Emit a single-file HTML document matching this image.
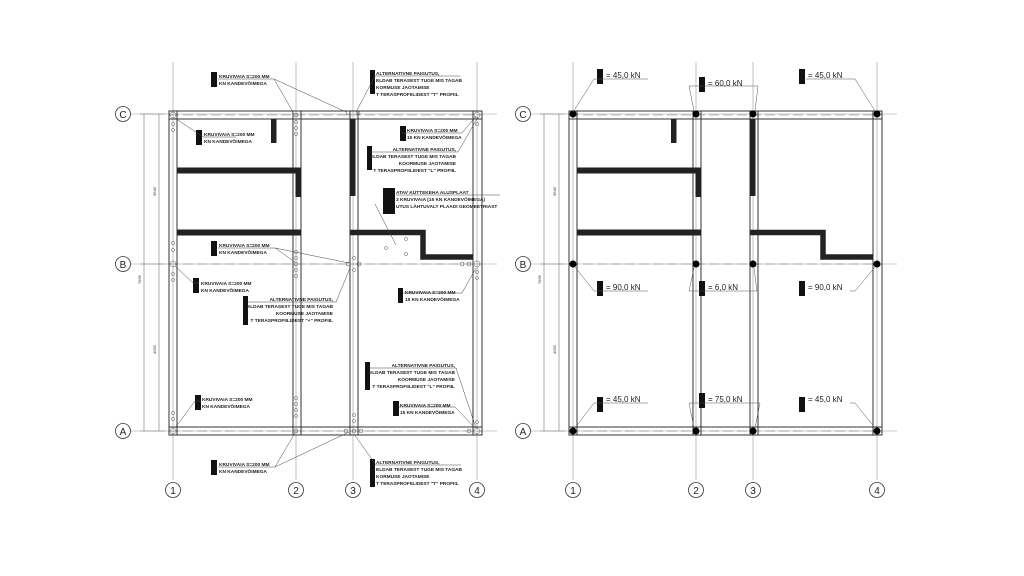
<!DOCTYPE html>
<html><head><meta charset="utf-8"><style>
html,body{margin:0;padding:0;background:#fff;}
svg{display:block;}
text{font-family:"Liberation Sans",sans-serif;fill:#222;}
.t{font-size:4.8px;font-weight:bold;fill:#333;}
.k{font-size:8px;fill:#666;}
</style></head><body>
<svg width="1024" height="576" viewBox="0 0 1024 576" xmlns="http://www.w3.org/2000/svg">
<rect width="1024" height="576" fill="#fff"/>
<defs>
<g id="plan">
  <g stroke="#999" stroke-width="0.6">
    <line x1="173" y1="62" x2="173" y2="480"/>
    <line x1="296" y1="62" x2="296" y2="480"/>
    <line x1="353" y1="62" x2="353" y2="480"/>
    <line x1="477" y1="62" x2="477" y2="480"/>
    <line x1="131" y1="114" x2="497" y2="114"/>
    <line x1="131" y1="264" x2="497" y2="264"/>
    <line x1="131" y1="431" x2="497" y2="431"/>
  </g>
  <g stroke="#777" stroke-width="0.6" stroke-dasharray="10,4">
    <line x1="169" y1="115" x2="482" y2="115"/>
    <line x1="169" y1="264" x2="482" y2="264"/>
    <line x1="169" y1="431" x2="482" y2="431"/>
  </g>
  <g fill="none" stroke="#333" stroke-width="1">
    <rect x="169" y="111" width="313" height="8"/>
    <rect x="169" y="427" width="313" height="8"/>
    <rect x="169" y="111" width="8" height="324"/>
    <rect x="293" y="111" width="8" height="324"/>
    <rect x="350" y="111" width="8" height="324"/>
    <rect x="473" y="111" width="9" height="324"/>
  </g>
  <g fill="#222">
    <rect x="177" y="167.5" width="124" height="6"/>
    <rect x="295.5" y="168" width="5.5" height="29"/>
    <rect x="271" y="119" width="5.5" height="24"/>
    <rect x="177" y="229.5" width="124" height="6"/>
    <rect x="350" y="119" width="5.5" height="77"/>
  </g>
  <polyline points="350,232.5 423,232.5 423,257 473,257" fill="none" stroke="#222" stroke-width="5.5"/>
  <g stroke="#777" stroke-width="0.6">
    <line x1="144" y1="114" x2="144" y2="431"/>
    <line x1="159" y1="114" x2="159" y2="431"/>
    <line x1="140" y1="114" x2="165" y2="114"/>
    <line x1="140" y1="264" x2="165" y2="264"/>
    <line x1="140" y1="431" x2="165" y2="431"/>
  </g>
  <text class="t" transform="translate(156,196) rotate(-90)" style="font-size:4px;font-weight:normal">3640</text>
  <text class="t" transform="translate(141,284) rotate(-90)" style="font-size:4px;font-weight:normal">7695</text>
  <text class="t" transform="translate(156,354) rotate(-90)" style="font-size:4px;font-weight:normal">4055</text>
  <g fill="#fff" stroke="#333" stroke-width="0.8">
    <circle cx="123" cy="114" r="7.5"/><circle cx="123" cy="264" r="7.5"/><circle cx="123" cy="431" r="7.5"/>
    <circle cx="173" cy="490" r="7.5"/><circle cx="296" cy="490" r="7.5"/><circle cx="353" cy="490" r="7.5"/><circle cx="477" cy="490" r="7.5"/>
  </g>
  <g style="font-size:10px" text-anchor="middle">
    <text x="123" y="118">C</text><text x="123" y="268">B</text><text x="123" y="435">A</text>
    <text x="173" y="494">1</text><text x="296" y="494">2</text><text x="353" y="494">3</text><text x="477" y="494">4</text>
  </g>
</g>
</defs>

<use href="#plan"/>
<use href="#plan" transform="translate(400,0)"/>

<g fill="none" stroke="#555" stroke-width="0.5">
  <circle cx="173" cy="115" r="3"/><circle cx="173" cy="124" r="1.6"/><circle cx="173" cy="130" r="1.6"/>
  <circle cx="296" cy="115" r="2"/><circle cx="296" cy="122" r="1.6"/><circle cx="296" cy="128" r="1.6"/><circle cx="296" cy="134" r="1.6"/>
  <circle cx="348" cy="113" r="2"/><circle cx="358" cy="113" r="2"/>
  <circle cx="477" cy="115" r="3"/><circle cx="477" cy="124" r="1.6"/>
  <circle cx="173" cy="243" r="1.6"/><circle cx="173" cy="250" r="1.6"/><circle cx="173" cy="264" r="3"/><circle cx="173" cy="274" r="1.6"/><circle cx="173" cy="280" r="1.6"/>
  <circle cx="296" cy="252" r="1.6"/><circle cx="296" cy="258" r="1.6"/><circle cx="296" cy="264" r="2"/><circle cx="296" cy="270" r="1.6"/><circle cx="296" cy="276" r="1.6"/>
  <circle cx="348" cy="264" r="2"/><circle cx="354" cy="258" r="1.6"/><circle cx="354" cy="270" r="1.6"/><circle cx="359" cy="264" r="2"/>
  <circle cx="462" cy="264" r="2"/><circle cx="469" cy="264" r="2"/><circle cx="477" cy="264" r="3"/><circle cx="477" cy="272" r="1.6"/><circle cx="477" cy="278" r="1.6"/>
  <circle cx="386" cy="248" r="1.6"/><circle cx="406" cy="239" r="1.6"/><circle cx="406" cy="254" r="1.6"/>
  <circle cx="173" cy="413" r="1.6"/><circle cx="173" cy="419" r="1.6"/><circle cx="173" cy="431" r="3"/>
  <circle cx="296" cy="398" r="1.6"/><circle cx="296" cy="404" r="1.6"/><circle cx="296" cy="410" r="1.6"/><circle cx="296" cy="416" r="1.6"/><circle cx="296" cy="431" r="2"/>
  <circle cx="354" cy="415" r="1.6"/><circle cx="354" cy="421" r="1.6"/><circle cx="346" cy="431" r="2"/><circle cx="354" cy="431" r="2"/><circle cx="361" cy="431" r="2"/>
  <circle cx="469" cy="431" r="2"/><circle cx="477" cy="431" r="3"/><circle cx="477" cy="422" r="1.6"/>
</g>

<g fill="#111">
  <rect x="211" y="72" width="6" height="15"/>
  <rect x="370" y="70" width="5" height="24"/>
  <rect x="196" y="130" width="6" height="15"/>
  <rect x="400" y="126" width="6" height="15"/>
  <rect x="367" y="146" width="5" height="24"/>
  <rect x="383" y="188" width="12" height="26"/>
  <rect x="211" y="241" width="6" height="15"/>
  <rect x="193" y="278" width="6" height="15"/>
  <rect x="243" y="296" width="5" height="29"/>
  <rect x="398" y="288" width="5" height="15"/>
  <rect x="365" y="362" width="5" height="28"/>
  <rect x="393" y="401" width="6" height="15"/>
  <rect x="195" y="395" width="6" height="15"/>
  <rect x="211" y="460" width="6" height="15"/>
  <rect x="370" y="459" width="5" height="28"/>
</g>
<g stroke="#444" stroke-width="0.5" fill="none">
  <polyline points="218,79 274,79 293,112"/><line x1="274" y1="79" x2="346" y2="112"/>
  <polyline points="460,76 375,76 356,112"/>
  <polyline points="236,137 203,137 175,118"/>
  <polyline points="402,133 462,133 476,116"/>
  <polyline points="370,152 458,152 478,117"/>
  <polyline points="396,195 500,195"/><line x1="375" y1="204" x2="396" y2="245"/>
  <polyline points="218,248 275,248 295,262"/><line x1="275" y1="248" x2="349" y2="263"/>
  <polyline points="199,283 193,283 175,266"/>
  <polyline points="248,302 336,302 350,268"/>
  <polyline points="403,293 462,293 476,268"/>
  <polyline points="370,368 456,368 476,428"/>
  <polyline points="399,407 455,407 475,428"/>
  <polyline points="201,401 195,401 175,428"/>
  <polyline points="218,467 275,467 295,433"/><line x1="275" y1="467" x2="349" y2="432"/>
  <polyline points="461,465 376,465 354,434"/>
</g>
<g class="t">
  <text x="219" y="78">KRUVIVAIA S=200 MM</text><text x="219" y="85">KN KANDEVÕIMEGA</text>
  <text x="376" y="75">ALTERNATIVNE PAIGUTUS,</text><text x="376" y="82">ELDAB TERASEST TUGE MIS TAGAB</text><text x="376" y="89">KORMUSE JAOTAMISE</text><text x="376" y="96">T TERASPROFIILIDEST "T" PROFIIL</text>
  <text x="204" y="136">KRUVIVAIA S=200 MM</text><text x="204" y="143">KN KANDEVÕIMEGA</text>
  <text x="407" y="132">KRUVIVAIA S=200 MM</text><text x="407" y="139">15 KN KANDEVÕIMEGA</text>
  <text x="456" y="151" text-anchor="end">ALTERNATIVNE PAIGUTUS,</text><text x="456" y="158" text-anchor="end">ELDAB TERASEST TUGE MIS TAGAB</text><text x="456" y="165" text-anchor="end">KOORMUSE JAOTAMISE</text><text x="456" y="172" text-anchor="end">T TERASPROFIILIDEST "L" PROFIIL</text>
  <text x="396" y="194">ATAV KÜTTEKEHA ALUSPLAAT</text><text x="396" y="201">3 KRUVIVAIA (15 KN KANDEVÕIMEGA)</text><text x="396" y="208">UTUS LÄHTUVALT PLAADI GEOMEETRIAST</text>
  <text x="219" y="247">KRUVIVAIA S=200 MM</text><text x="219" y="254">KN KANDEVÕIMEGA</text>
  <text x="201" y="285">KRUVIVAIA S=200 MM</text><text x="201" y="292">KN KANDEVÕIMEGA</text>
  <text x="333" y="301" text-anchor="end">ALTERNATIVNE PAIGUTUS,</text><text x="333" y="308" text-anchor="end">ELDAB TERASEST TUGE MIS TAGAB</text><text x="333" y="315" text-anchor="end">KOORMUSE JAOTAMISE</text><text x="333" y="322" text-anchor="end">T TERASPROFIILIDEST "+" PROFIIL</text>
  <text x="405" y="294">KRUVIVAIA S=200 MM</text><text x="405" y="301">15 KN KANDEVÕIMEGA</text>
  <text x="455" y="367" text-anchor="end">ALTERNATIVNE PAIGUTUS,</text><text x="455" y="374" text-anchor="end">ELDAB TERASEST TUGE MIS TAGAB</text><text x="455" y="381" text-anchor="end">KOORMUSE JAOTAMISE</text><text x="455" y="388" text-anchor="end">T TERASPROFIILIDEST "L" PROFIIL</text>
  <text x="400" y="407">KRUVIVAIA S=200 MM</text><text x="400" y="414">15 KN KANDEVÕIMEGA</text>
  <text x="202" y="401">KRUVIVAIA S=200 MM</text><text x="202" y="408">KN KANDEVÕIMEGA</text>
  <text x="219" y="466">KRUVIVAIA S=200 MM</text><text x="219" y="473">KN KANDEVÕIMEGA</text>
  <text x="376" y="464">ALTERNATIVNE PAIGUTUS,</text><text x="376" y="471">ELDAB TERASEST TUGE MIS TAGAB</text><text x="376" y="478">KORMUSE JAOTAMISE</text><text x="376" y="485">T TERASPROFIILIDEST "T" PROFIIL</text>
</g>

<g fill="#000">
  <circle cx="573" cy="114" r="3.5"/><circle cx="696" cy="114" r="3.5"/><circle cx="753" cy="114" r="3.5"/><circle cx="877" cy="114" r="3.5"/>
  <circle cx="573" cy="264" r="3.5"/><circle cx="696" cy="264" r="3.5"/><circle cx="753" cy="264" r="3.5"/><circle cx="877" cy="264" r="3.5"/>
  <circle cx="573" cy="431" r="3.5"/><circle cx="696" cy="431" r="3.5"/><circle cx="753" cy="431" r="3.5"/><circle cx="877" cy="431" r="3.5"/>
</g>
<g fill="#111">
  <rect x="597" y="69" width="6" height="15"/>
  <rect x="699" y="77" width="6" height="15"/>
  <rect x="799" y="69" width="6" height="15"/>
  <rect x="597" y="281" width="6" height="15"/>
  <rect x="699" y="281" width="6" height="15"/>
  <rect x="799" y="281" width="6" height="15"/>
  <rect x="597" y="397" width="6" height="15"/>
  <rect x="699" y="393" width="6" height="15"/>
  <rect x="799" y="397" width="6" height="15"/>
</g>
<g stroke="#555" stroke-width="0.5" fill="none">
  <polyline points="648,79 605,79 594,79 573,112"/>
  <polyline points="758,86 705,86 689,86 694,111"/><line x1="758" y1="86" x2="755" y2="111"/>
  <polyline points="850,79 806,79"/><polyline points="850,79 855,79 875,111"/>
  <polyline points="648,291 594,291 575,267"/>
  <polyline points="757,291 689,291 694,268"/><line x1="757" y1="291" x2="754" y2="268"/>
  <polyline points="850,291 855,291 875,267"/>
  <polyline points="648,403 594,403 575,428"/>
  <polyline points="760,403 689,403 694,428"/><line x1="760" y1="403" x2="755" y2="428"/>
  <polyline points="850,403 855,403 875,428"/>
</g>
<g class="k">
  <text x="606" y="78">= 45,0  kN</text>
  <text x="708" y="86">= 60,0  kN</text>
  <text x="808" y="78">= 45,0  kN</text>
  <text x="606" y="290">= 90,0  kN</text>
  <text x="708" y="290">= 6,0  kN</text>
  <text x="808" y="290">= 90,0  kN</text>
  <text x="606" y="402">= 45,0  kN</text>
  <text x="708" y="402">= 75,0  kN</text>
  <text x="808" y="402">= 45,0  kN</text>
</g>
</svg>
</body></html>
